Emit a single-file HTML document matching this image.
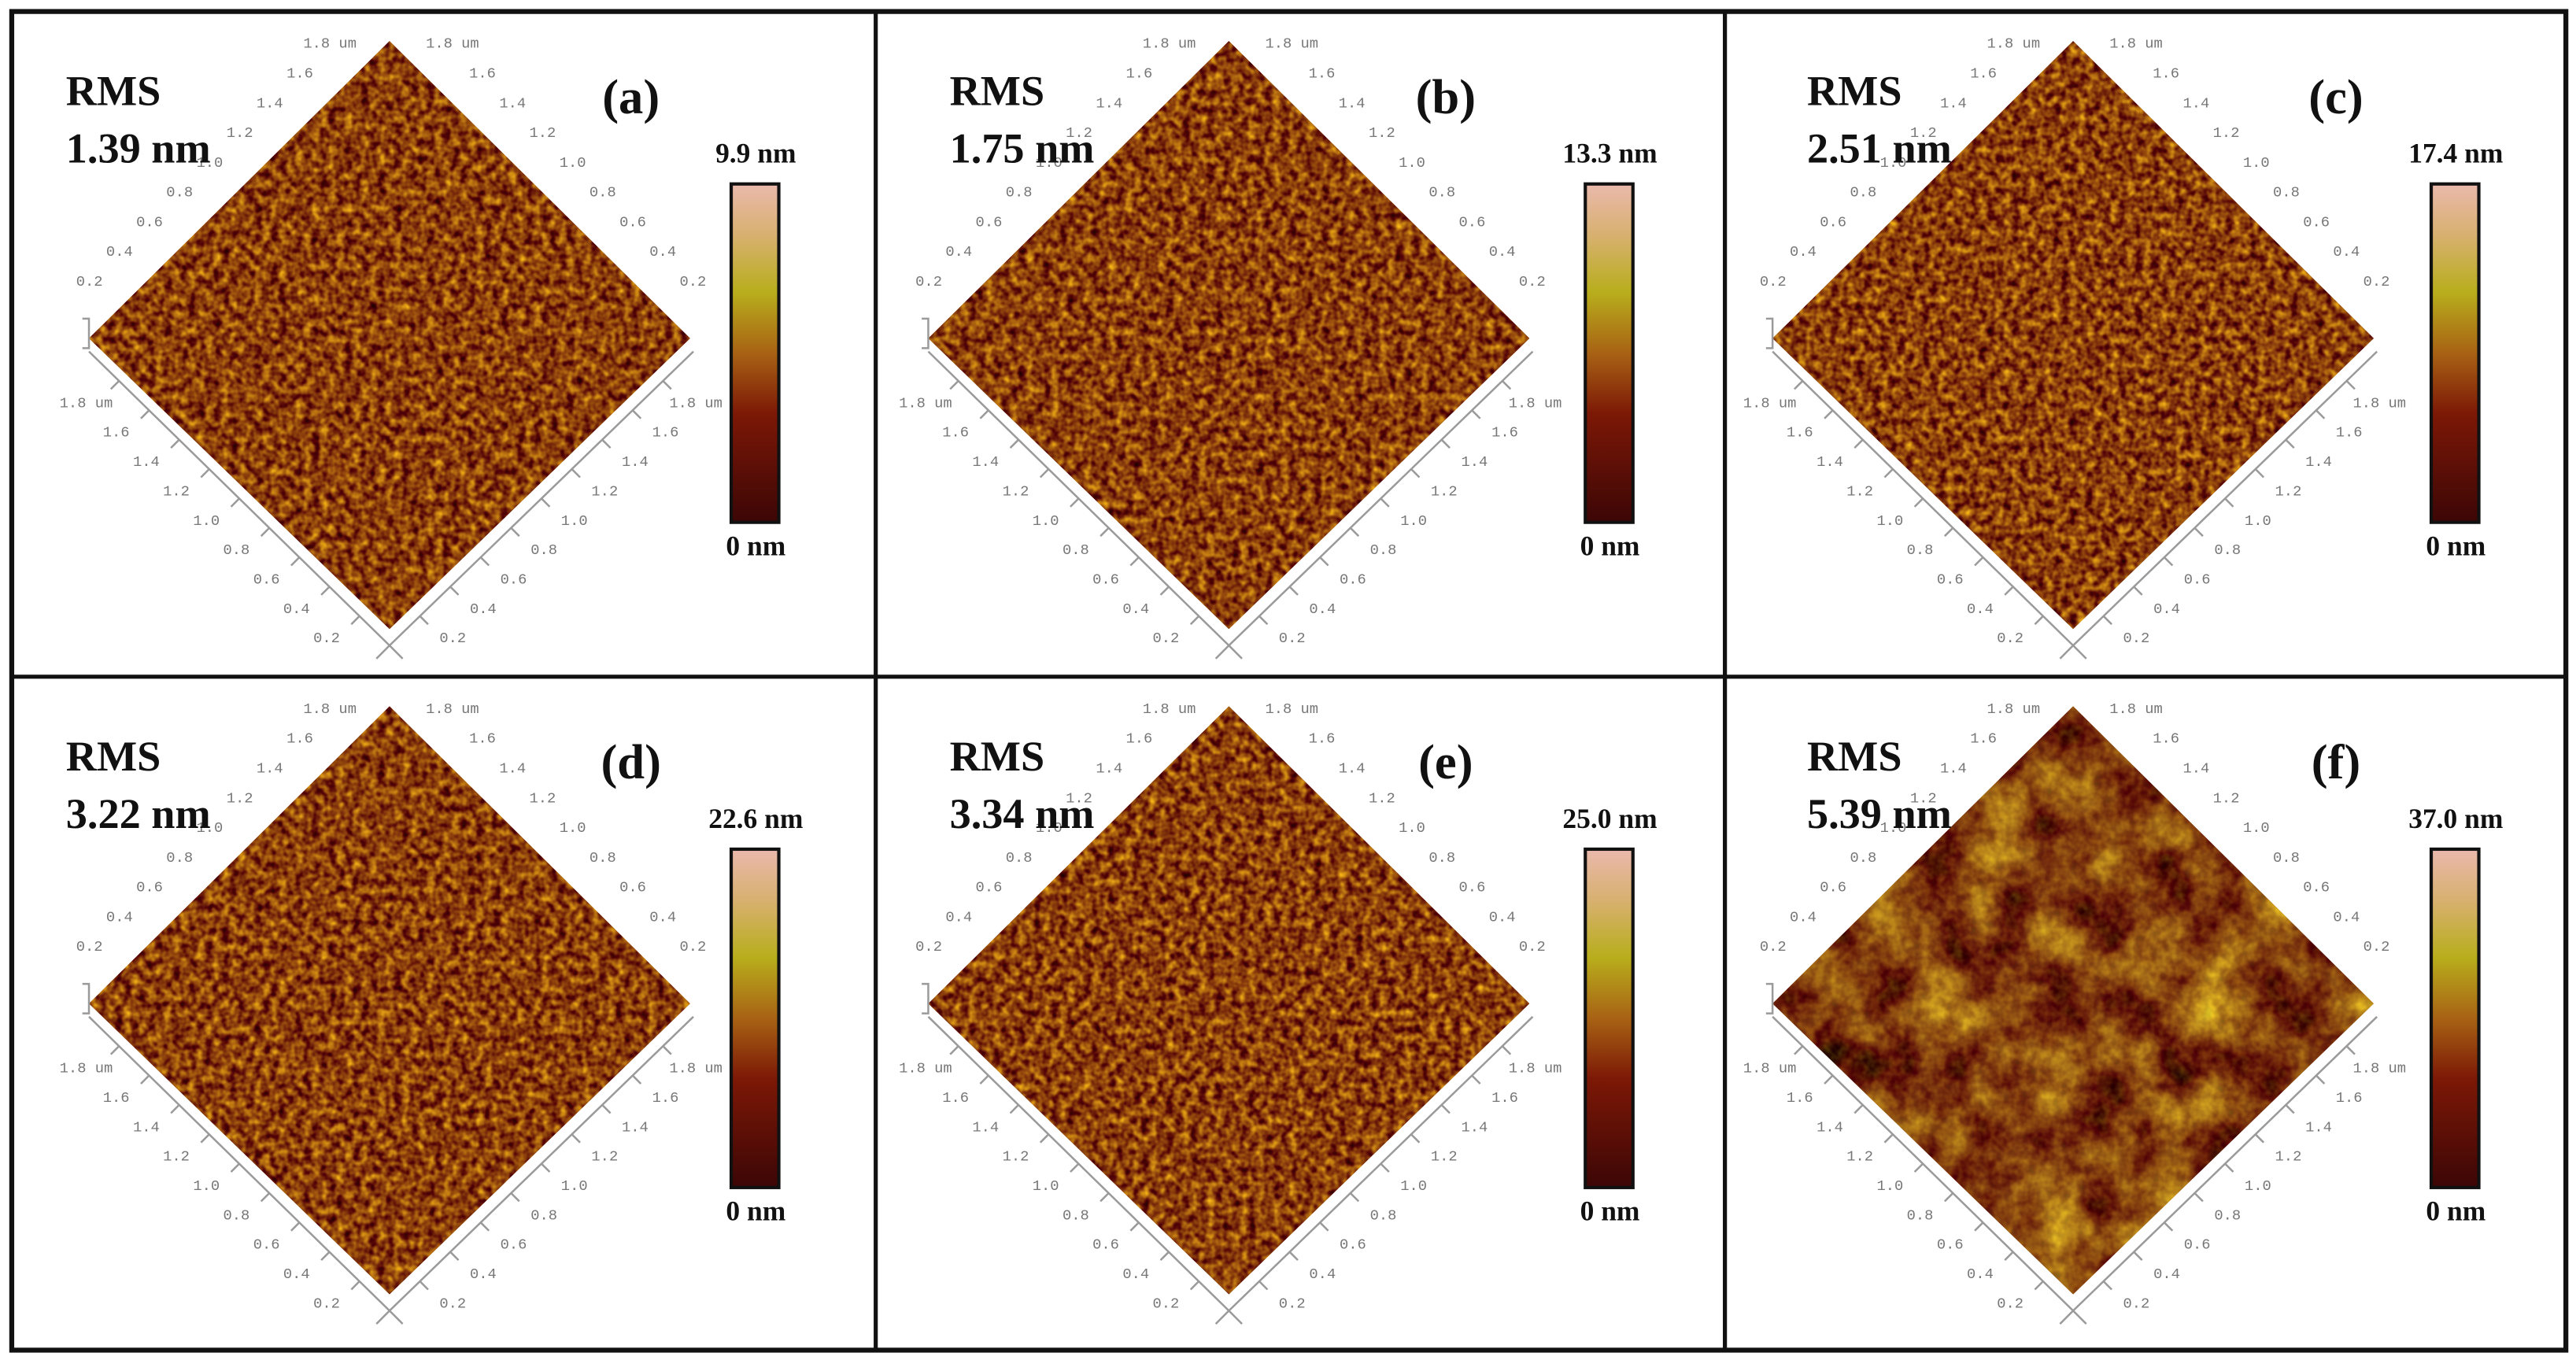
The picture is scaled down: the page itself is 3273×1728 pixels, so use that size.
<!DOCTYPE html>
<html><head><meta charset="utf-8"><style>
html,body{margin:0;padding:0;background:#fff;}
svg{display:block;}
</style></head><body>
<svg id="fig" xmlns="http://www.w3.org/2000/svg" width="3273" height="1728" viewBox="0 0 1568 828">
<defs>
<linearGradient id="cbar" x1="0" y1="0" x2="0" y2="1">
<stop offset="0" stop-color="#eab9ac"/>
<stop offset="0.15" stop-color="#d8b070"/>
<stop offset="0.32" stop-color="#b8ae1c"/>
<stop offset="0.5" stop-color="#a86214"/>
<stop offset="0.68" stop-color="#7c1806"/>
<stop offset="1" stop-color="#3c0606"/>
</linearGradient>
<filter id="noiseFine" x="0" y="0" width="100%" height="100%" color-interpolation-filters="sRGB">
<feTurbulence type="fractalNoise" baseFrequency="0.2" numOctaves="2" seed="3"/>
<feColorMatrix type="matrix" values="1.1 0 0 0 0  1.2 0 0 0 -0.35  0.1 0 0 0 0  0 0 0 0 1"/>
</filter>
<filter id="noiseCoarse" x="0" y="0" width="100%" height="100%" color-interpolation-filters="sRGB">
<feTurbulence type="fractalNoise" baseFrequency="0.03" numOctaves="3" seed="7"/>
<feColorMatrix type="matrix" values="1.4 0 0 0 -0.2  1.8 0 0 0 -0.65  0.3 0 0 0 -0.08  0 0 0 0 1"/>
</filter>
</defs>
<rect x="0" y="0" width="1568" height="828" fill="#fff"/>
<g id="panels"></g>
<g fill="none" stroke="#111">
<rect x="7" y="7" width="1555" height="815" stroke-width="3"/>
<line x1="533" y1="7" x2="533" y2="822" stroke-width="2.5"/>
<line x1="1050" y1="7" x2="1050" y2="822" stroke-width="2.5"/>
<line x1="7" y1="412" x2="1562" y2="412" stroke-width="2.5"/>
</g>
</svg>
<script>
const panelLetters = ['a','b','c','d','e','f'];
const rmsValues = ['1.39','1.75','2.51','3.22','3.34','5.39'];
const maxHeights = ['9.9','13.3','17.4','22.6','25.0','37.0'];
const tickLabels = ['0.2','0.4','0.6','0.8','1.0','1.2','1.4','1.6','1.8 um'];

const NS='http://www.w3.org/2000/svg';
const root=document.getElementById('panels');
function mk(tag,attrs,parent){const e=document.createElementNS(NS,tag);for(const k in attrs)e.setAttribute(k,attrs[k]);(parent||root).appendChild(e);return e;}

const colX=[7,533,1050], rowY=[7,412];
const diamondCx=[230,215,212];
const rmsX=[33,45,50];
const letterX=[377,347,372];
const cbarX=[438,432,430];

panelLetters.forEach((L,i)=>{
  const c=i%3, r=Math.floor(i/3);
  const x0=colX[c], y0=rowY[r];
  const g=mk('g',{});
  
  
  const cx=x0+diamondCx[c], top=y0+18, mid=y0+199, bot=y0+376, hw=183;
  const pts=`${cx},${top} ${cx+hw},${mid} ${cx},${bot} ${cx-hw},${mid}`;
  const cp=mk('clipPath',{id:'clip'+L},g);
  mk('polygon',{points:pts},cp);
  const sg=mk('g',{'clip-path':'url(#clip'+L+')'},g);
  
  
  mk('rect',{x:cx-hw,y:top,width:2*hw,height:bot-top,fill:'#7a3a0e'},sg);
  mk('rect',{x:cx-hw,y:top,width:2*hw,height:bot-top,filter:L==='f'?'url(#noiseCoarse)':'url(#noiseFine)',opacity:0.95},sg);
  if(L==='f'){mk('rect',{x:cx-hw,y:top,width:2*hw,height:bot-top,filter:'url(#noiseFine)',opacity:0.3},sg);}
  const ax=mk('g',{stroke:'#9a9a9a','stroke-width':1.2,fill:'none'},g);
  
  
  const Lp=[cx-hw,mid+8], Bp=[cx,bot+10], Rp=[cx+hw+2,mid+8];
  mk('polyline',{points:`${Lp[0]},${Lp[1]} ${Bp[0]},${Bp[1]} ${Rp[0]},${Rp[1]}`},ax);
  mk('line',{x1:Bp[0],y1:Bp[1],x2:Bp[0]+8,y2:Bp[1]+8},ax);
  mk('line',{x1:Bp[0],y1:Bp[1],x2:Bp[0]-8,y2:Bp[1]+8},ax);
  mk('polyline',{points:`${Lp[0]-4},${Lp[1]-20} ${Lp[0]},${Lp[1]-20} ${Lp[0]},${Lp[1]-2} ${Lp[0]-4},${Lp[1]-2}`},ax);
  const tg=mk('g',{fill:'#777','font-family':'Liberation Mono, monospace','font-size':9,'text-anchor':'middle'},g);
  
  
  tickLabels.forEach((t,k)=>{
    const f=(k+1)/10;
    let px=Bp[0]+(Lp[0]-Bp[0])*f, py=Bp[1]+(Lp[1]-Bp[1])*f;
    mk('line',{x1:px,y1:py,x2:px-5,y2:py+5,stroke:'#9a9a9a'},ax);
    mk('text',{x:px-20,y:py+16},tg).textContent=t;
    px=Bp[0]+(Rp[0]-Bp[0])*f; py=Bp[1]+(Rp[1]-Bp[1])*f;
    mk('line',{x1:px,y1:py,x2:px+5,y2:py+5,stroke:'#9a9a9a'},ax);
    mk('text',{x:px+20,y:py+16},tg).textContent=t;
    px=cx-hw+hw*f; py=mid-(mid-top)*f;
    mk('text',{x:px-18,y:py-14},tg).textContent=t;
    px=cx+hw-hw*f;
    mk('text',{x:px+20,y:py-14},tg).textContent=t;
  });
  const tx=mk('text',{x:x0+rmsX[c],y:y0+57,'font-family':'Liberation Serif, serif','font-weight':'bold','font-size':26,fill:'#111'},g);
  
  
  tx.textContent='RMS';
  const tv=mk('text',{x:x0+rmsX[c],y:y0+92,'font-family':'Liberation Serif, serif','font-weight':'bold','font-size':26,fill:'#111'},g);
  
  
  tv.textContent=rmsValues[i]+' nm';
  const tl=mk('text',{x:x0+letterX[c],y:y0+62,'font-family':'Liberation Serif, serif','font-weight':'bold','font-size':30,fill:'#111','text-anchor':'middle'},g);
  
  
  tl.textContent='('+L+')';
  const cbx=x0+cbarX[c];
  const cb=mk('rect',{x:cbx,y:y0+105,width:29,height:206,fill:'url(#cbar)',stroke:'#111','stroke-width':2},g);
  
  
  const ct=mk('text',{x:cbx+15,y:y0+92,'font-family':'Liberation Serif, serif','font-weight':'bold','font-size':17,fill:'#111','text-anchor':'middle'},g);
  
  
  ct.textContent=maxHeights[i]+' nm';
  const cm=mk('text',{x:cbx+15,y:y0+331,'font-family':'Liberation Serif, serif','font-weight':'bold','font-size':17,fill:'#111','text-anchor':'middle'},g);
  
  
  cm.textContent='0 nm';
});
</script>
</body></html>
